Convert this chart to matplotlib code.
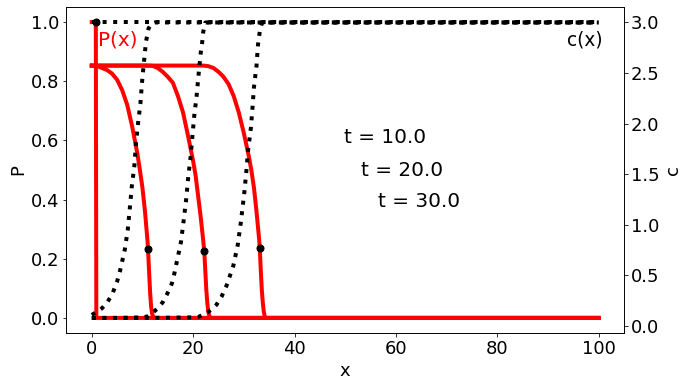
import matplotlib
matplotlib.use('Agg')
import matplotlib.pyplot as plt

# P(x) profiles (left axis)
x_p0 = [0, 0.8, 0.9, 100]
p_0 = [1.0, 1.0, 0.0, 0.0]

x_p10 = [0, 1, 2, 3, 4, 5, 6, 7, 8, 9, 9.5, 10, 10.5, 11, 11.1, 11.3, 11.5, 11.7, 11.9, 12.2, 100]
p_10 = [0.853, 0.852, 0.845, 0.838, 0.826, 0.805, 0.77, 0.72, 0.645, 0.555, 0.5, 0.44, 0.36, 0.26,
        0.234, 0.16, 0.09, 0.04, 0.015, 0.0, 0.0]

x_p20 = [0, 11, 12, 13, 14, 15, 16, 17, 18, 19, 20, 20.5, 21, 21.5, 22, 22.2, 22.4, 22.6, 22.8, 23.0,
         23.3, 100]
p_20 = [0.853, 0.853, 0.852, 0.845, 0.832, 0.815, 0.795, 0.75, 0.695, 0.615, 0.53, 0.48, 0.41, 0.34,
        0.26, 0.225, 0.16, 0.095, 0.05, 0.02, 0.0, 0.0]

x_p30 = [0, 22, 23, 24, 25, 26, 27, 28, 29, 30, 31, 31.5, 32, 32.5, 33, 33.15, 33.35, 33.55, 33.75,
         33.95, 34.2, 100]
p_30 = [0.853, 0.853, 0.851, 0.845, 0.832, 0.815, 0.79, 0.75, 0.695, 0.625, 0.545, 0.498, 0.44, 0.36,
        0.27, 0.237, 0.16, 0.095, 0.05, 0.02, 0.0, 0.0]

# front positions
x_front = [0.8, 11.1, 22.2, 33.15]
p_front = [1.0, 0.234, 0.225, 0.237]

# c(x) profiles (right axis)
x_c0 = [0, 100]
c_0 = [3.0, 3.0]

x_c10 = [0, 1, 2, 3, 4, 5, 5.6, 6.5, 7.1, 7.5, 7.9, 8.4, 8.7, 9.1, 9.6, 9.9, 10.3, 10.7, 11.2, 11.8,
         12.4, 100]
c_10 = [0.11, 0.14, 0.175, 0.23, 0.31, 0.44, 0.55, 0.75, 0.95, 1.16, 1.38, 1.58, 1.79, 1.99, 2.2, 2.4,
        2.61, 2.81, 2.94, 2.99, 3.0, 3.0]

x_c20 = [0, 5, 10, 11, 12, 13, 14, 14.9, 15.8, 16.3, 16.8, 17.6, 18.1, 18.6, 19.05, 19.5, 19.85, 20.2,
         20.7, 21.1, 21.5, 21.8, 22.0, 22.4, 100]
c_20 = [0.08, 0.08, 0.085, 0.095, 0.13, 0.175, 0.235, 0.32, 0.42, 0.52, 0.64, 0.83, 1.03, 1.24, 1.48,
        1.67, 1.87, 2.07, 2.28, 2.5, 2.7, 2.81, 2.91, 3.0, 3.0]

x_c30 = [0, 10, 20, 21, 22, 23, 24, 24.6, 25.6, 26.6, 27.9, 28.8, 29.4, 30.1, 30.5, 30.85, 31.4, 31.7,
         32.0, 32.5, 32.8, 33.2, 33.6, 100]
c_30 = [0.08, 0.08, 0.085, 0.09, 0.11, 0.14, 0.18, 0.21, 0.29, 0.40, 0.59, 0.80, 1.02, 1.32, 1.53, 1.74,
        1.96, 2.15, 2.36, 2.57, 2.78, 2.93, 3.0, 3.0]

labels = ['t = 10.0', 't = 20.0', 't = 30.0']
label_x = [49.8, 53.2, 56.4]
label_y = [0.611, 0.50, 0.395]

plt.rcParams['font.size'] = 18

fig = plt.figure(figsize=(689 / 72, 388 / 72), dpi=72)
ax1 = fig.add_axes([0.0964, 0.1425, 0.9056 - 0.0964, 0.9812 - 0.1425])
ax2 = ax1.twinx()

for xx, pp in [(x_p0, p_0), (x_p10, p_10), (x_p20, p_20), (x_p30, p_30)]:
    ax1.plot(xx, pp, 'r-', lw=4)
ax1.plot(x_front, p_front, 'ko', ms=7)

for xx, cc in [(x_c0, c_0), (x_c10, c_10), (x_c20, c_20), (x_c30, c_30)]:
    ax2.plot(xx, cc, 'k:', lw=4)

ax1.text(1.3, 0.94, 'P(x)', color='red', va='center', ha='left', fontsize=20)
ax1.text(100.8, 0.94, 'c(x)', color='black', va='center', ha='right', fontsize=18.5)
for lx, ly, lab in zip(label_x, label_y, labels):
    ax1.text(lx, ly, lab, va='center', ha='left', fontsize=20)

ax1.set_xlim(-5, 105)
ax1.set_ylim(-0.05, 1.05)
ax2.set_ylim(-0.066, 3.15)
ax1.set_xlabel('x')
ax1.set_ylabel('P')
ax2.set_ylabel('c')

fig.savefig('out.png', dpi=72)
